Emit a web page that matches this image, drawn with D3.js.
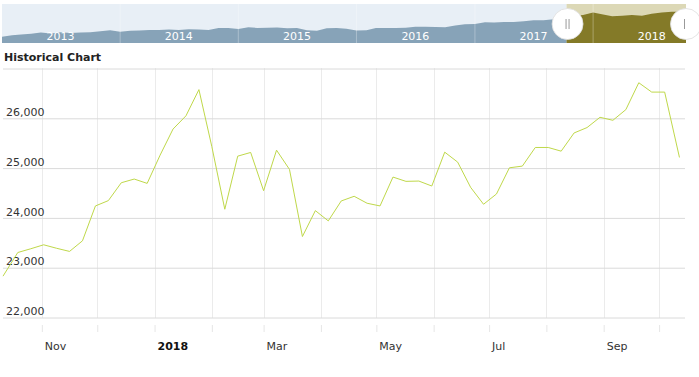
<!DOCTYPE html>
<html>
<head>
<meta charset="utf-8">
<script src="https://cdn.jsdelivr.net/npm/d3@7"></script>
<style>
  body { margin: 0; background: #fff; }
  svg { display: block; font-family: "DejaVu Sans", Verdana, sans-serif; }
</style>
</head>
<body>
<script>
// weekly closes shown in the main chart
const dates = [
  "2017-10-11","2017-10-19","2017-10-26","2017-11-02","2017-11-09","2017-11-16","2017-11-23","2017-11-30",
  "2017-12-07","2017-12-14","2017-12-21","2017-12-28","2018-01-04","2018-01-11","2018-01-18","2018-01-25",
  "2018-02-01","2018-02-08","2018-02-15","2018-02-22","2018-03-01","2018-03-08","2018-03-15","2018-03-22",
  "2018-03-29","2018-04-05","2018-04-12","2018-04-19","2018-04-26","2018-05-03","2018-05-10","2018-05-17",
  "2018-05-24","2018-05-31","2018-06-07","2018-06-14","2018-06-21","2018-06-28","2018-07-05","2018-07-12",
  "2018-07-19","2018-07-26","2018-08-02","2018-08-09","2018-08-16","2018-08-23","2018-08-30","2018-09-06",
  "2018-09-13","2018-09-20","2018-09-27","2018-10-04","2018-10-12"
]
const values = [
  22830,23305,23380,23460,23390,23327,23540,24240,
  24347,24706,24780,24693,25260,25784,26050,26576,
  25430,24174,25240,25314,24546,25360,24974,23626,
  24146,23940,24340,24434,24294,24240,24820,24734,
  24740,24640,25320,25120,24614,24274,24480,25006,
  25040,25414,25414,25340,25706,25814,26020,25960,
  26174,26714,26526,26526,25214
]
const yTicks = [22000, 23000, 24000, 25000, 26000, 27000]

// navigator series (monthly)
const navDates = [
  "2013-01","2013-02","2013-03","2013-04","2013-05","2013-06","2013-07","2013-08","2013-09","2013-10","2013-11","2013-12",
  "2014-01","2014-02","2014-03","2014-04","2014-05","2014-06","2014-07","2014-08","2014-09","2014-10","2014-11","2014-12",
  "2015-01","2015-02","2015-03","2015-04","2015-05","2015-06","2015-07","2015-08","2015-09","2015-10","2015-11","2015-12",
  "2016-01","2016-02","2016-03","2016-04","2016-05","2016-06","2016-07","2016-08","2016-09","2016-10","2016-11","2016-12",
  "2017-01","2017-02","2017-03","2017-04","2017-05","2017-06","2017-07","2017-08","2017-09","2017-10","2017-11","2017-12",
  "2018-01","2018-02","2018-03","2018-04","2018-05","2018-06","2018-07","2018-08","2018-09","2018-10"
]
const navValues = [
  13100,13900,14300,14600,15300,14800,15500,15000,15300,15500,16000,16500,
  15700,16300,16400,16600,16700,16900,16600,17100,17000,16700,17800,17800,
  17200,18100,17800,17900,18000,17600,17700,16500,16300,17600,17700,17400,
  16400,16500,17700,17800,17800,17900,18400,18400,18300,18100,19100,19800,
  19900,20800,20700,20900,21000,21300,21900,21900,22400,23300,24200,24700,
  26100,25000,24100,24300,24700,24300,25400,26000,26500,26400
]
const navYears = ["2013","2014","2015","2016","2017","2018"]

const W = 699, H = 377
const parse = d3.utcParse("%Y-%m-%d")
const parseM = d3.utcParse("%Y-%m")

const svg = d3.select("body").append("svg").attr("width", W).attr("height", H)

// ---------- navigator ----------
const navX = d3.scaleUtc().domain([parseM("2013-01"), parse("2018-10-15")]).range([2, 686])
const navY = d3.scaleLinear().domain([9700, 30600]).range([43, 4])
const selStart = parse(dates[0]), selEnd = parse("2018-10-15")
const sx0 = navX(selStart), sx1 = navX(selEnd)

const nav = svg.append("g")
const defs = svg.append("defs")
defs.append("clipPath").attr("id", "outSel").append("rect")
  .attr("x", 2).attr("y", 4).attr("width", sx0 - 2).attr("height", 39)
defs.append("clipPath").attr("id", "inSel").append("rect")
  .attr("x", sx0).attr("y", 4).attr("width", sx1 - sx0).attr("height", 39)

nav.append("rect").attr("x", 2).attr("y", 4).attr("width", sx0 - 2).attr("height", 39).attr("fill", "#e8eff6")
nav.append("rect").attr("x", sx0).attr("y", 4).attr("width", sx1 - sx0).attr("height", 39).attr("fill", "#dcd8b6")

const navPts = navDates.map((d, i) => ({ d: parseM(d), v: navValues[i] }))
navPts.push({ d: selEnd, v: values[values.length - 1] + 1000 })
const navArea = d3.area().x(p => navX(p.d)).y0(43).y1(p => navY(p.v))
nav.append("path").datum(navPts).attr("d", navArea).attr("fill", "#87a3b8").attr("clip-path", "url(#outSel)")
nav.append("path").datum(navPts).attr("d", navArea).attr("fill", "#847a28").attr("clip-path", "url(#inSel)")

// year separators + labels
navYears.forEach((y, i) => {
  const x0 = navX(parseM(y + "-01"))
  if (i > 0) {
    nav.append("line").attr("x1", x0).attr("x2", x0).attr("y1", 4).attr("y2", 43)
      .attr("stroke", "#fff").attr("stroke-opacity", 0.3)
  }
  const xm = navX(parseM(y + "-07"))
  nav.append("text").attr("x", xm).attr("y", 39.5).attr("text-anchor", "middle")
    .attr("font-size", 11).attr("fill", "#fff").text(y)
})

// handles
;[sx0 + 1, sx1].forEach((hx, i) => {
  const h = nav.append("g")
  h.append("circle").attr("cx", hx).attr("cy", 24).attr("r", 15.5)
    .attr("fill", "#fff").attr("stroke", "#ddd").attr("stroke-width", 0.8)
  if (i === 0) {
    h.append("line").attr("x1", hx - 1.5).attr("x2", hx - 1.5).attr("y1", 19).attr("y2", 29).attr("stroke", "#999")
    h.append("line").attr("x1", hx + 1.5).attr("x2", hx + 1.5).attr("y1", 19).attr("y2", 29).attr("stroke", "#999")
  } else {
    h.append("line").attr("x1", hx - 1.5).attr("x2", hx - 1.5).attr("y1", 19).attr("y2", 29).attr("stroke", "#999")
  }
})

// ---------- title ----------
svg.append("text").attr("x", 4).attr("y", 61).attr("font-size", 11).attr("font-weight", "bold")
  .attr("fill", "#222").text("Historical Chart")

// ---------- main chart ----------
const x = d3.scaleUtc().domain([parse("2017-10-11"), parse("2018-10-15")]).range([3, 685])
const y = d3.scaleLinear().domain([22000, 27000]).range([317.5, 68.5])

const months = d3.utcMonth.range(parse("2017-11-01"), parse("2018-10-15"))

// vertical grid
svg.append("g").selectAll("line").data(months).enter().append("line")
  .attr("x1", d => Math.round(x(d)) + 0.5).attr("x2", d => Math.round(x(d)) + 0.5)
  .attr("y1", 68).attr("y2", 318)
  .attr("stroke", "#ebebeb")

// horizontal grid + labels
const yAxis = d3.axisRight(y).tickValues(yTicks).tickSize(682).tickFormat(d => d === 27000 ? "" : d3.format(",")(d))
const gy = svg.append("g").attr("transform", "translate(3,0)").call(yAxis)
gy.select(".domain").remove()
gy.selectAll(".tick line").attr("stroke", "#dadada")
gy.selectAll(".tick text").attr("x", 3).attr("dy", "-0.25em").attr("text-anchor", "start")
  .attr("font-size", 11).attr("fill", "#333").attr("font-family", "DejaVu Sans, Verdana, sans-serif")

// x axis
const xAxis = d3.axisBottom(x).tickValues(months).tickSize(7).tickPadding(0)
  .tickFormat(d => {
    const m = d.getUTCMonth()
    if (m % 2 !== 0) return ""
    return m === 0 ? d3.utcFormat("%Y")(d) : d3.utcFormat("%b")(d)
  })
const gx = svg.append("g").attr("transform", "translate(0,325)").call(xAxis)
gx.select(".domain").remove()
gx.selectAll(".tick line").attr("stroke", "#e6e6e6")
gx.selectAll(".tick text").attr("x", 2.5).attr("y", 25).attr("dy", 0).attr("text-anchor", "start")
  .attr("font-size", 11).attr("font-family", "DejaVu Sans, Verdana, sans-serif")
  .attr("font-weight", d => d.getUTCMonth() === 0 ? "bold" : "normal")
  .attr("fill", d => d.getUTCMonth() === 0 ? "#111" : "#333")

// price line
const pts = dates.map((d, i) => ({ d: parse(d), v: values[i] }))
const line = d3.line().x(p => x(p.d)).y(p => y(p.v))
svg.append("path").datum(pts).attr("d", line)
  .attr("fill", "none").attr("stroke", "#bfd84a").attr("stroke-width", 1).attr("stroke-linejoin", "round")
</script>
</body>
</html>
